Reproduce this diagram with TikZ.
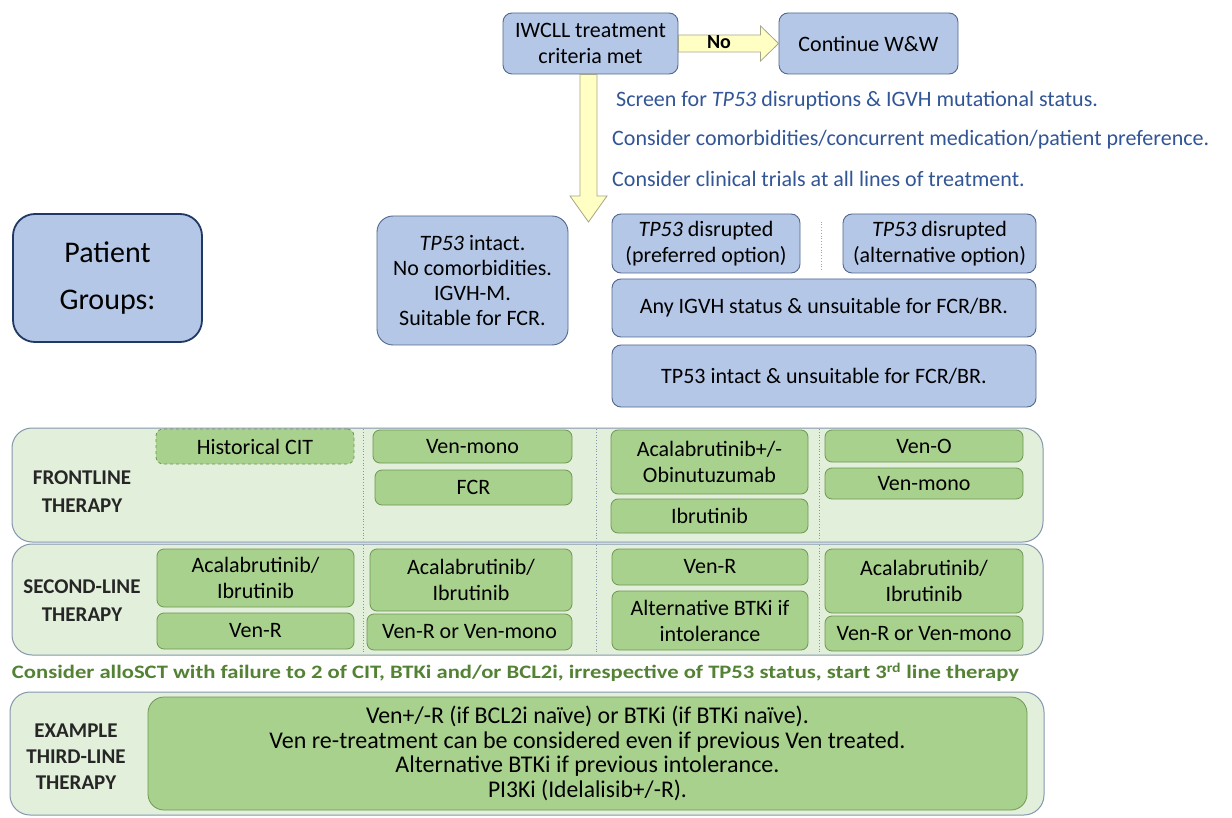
\documentclass[tikz,border=0pt]{standalone}
\usepackage{fontspec}
\setmainfont{Carlito}
\usepackage{graphicx}
\usetikzlibrary{calc}
\definecolor{bfill}{HTML}{B4C7E7}
\definecolor{bdraw}{RGB}{82,104,142}
\definecolor{pgdraw}{RGB}{31,56,100}
\definecolor{gfill}{HTML}{A9D18E}
\definecolor{gdraw}{RGB}{112,150,84}
\definecolor{sfill}{HTML}{E2EFDA}
\definecolor{sdraw}{RGB}{132,151,176}
\definecolor{afill}{HTML}{FFFFC4}
\definecolor{adraw}{RGB}{165,165,140}
\definecolor{btext}{RGB}{50,85,150}
\definecolor{gtext}{RGB}{84,130,53}
\definecolor{dotred}{RGB}{200,150,150}
\newcommand\boxfont{\fontsize{22}{26}\selectfont}
\begin{document}
\begin{tikzpicture}[x=1pt,y=-1pt,
  bbox/.style={draw=bdraw, line width=0.9pt, fill=bfill, rounded corners=9pt, align=center, inner sep=0pt, font=\boxfont, text=black},
  gbox/.style={draw=gdraw, line width=0.8pt, fill=gfill, rounded corners=7pt, align=center, inner sep=0pt, font=\boxfont, text=black},
  sect/.style={draw=sdraw, line width=1pt, fill=sfill, rounded corners=20pt, inner sep=0pt},
  lbl/.style={align=center, inner sep=0pt, font=\bfseries\fontsize{21}{28}\selectfont, text=black!85},
  bluetext/.style={inner sep=0pt, anchor=west, font=\fontsize{22}{26}\selectfont, text=btext},
  blockarrow/.style={draw=adraw, line width=0.8pt, fill=afill},
  divider/.style={draw=sdraw, line width=0.8pt, dotted}
]
\useasboundingbox (0,0) rectangle (1232,818);
\fill[white] (0,0) rectangle (1232,818);

% top flow
\node[bbox, minimum width=175pt, minimum height=61pt] (iw) at (590.5,43.5) {IWCLL treatment\\criteria met};
\node[bbox, minimum width=179pt, minimum height=61pt] (cw) at (868.5,43.5) {Continue W\&W};

\draw[blockarrow] ($(iw.east)+(0,-8.5)$) -- ($(cw.west)+(-18,-8.5)$) -- ($(cw.west)+(-18,-17.5)$) -- (cw.west)
  -- ($(cw.west)+(-18,17.5)$) -- ($(cw.west)+(-18,8.5)$) -- ($(iw.east)+(0,8.5)$) -- cycle;
\node[inner sep=0pt, font=\bfseries\fontsize{20}{22}\selectfont] (no) at (719,42) {No};

\coordinate (vs) at ($(iw.south)+(-2,0)$);
\coordinate (vt) at (588.5,222);
\draw[blockarrow] ($(vs)+(-8.5,0)$) -- ($(vt)+(-8.5,-26)$) -- ($(vt)+(-18.5,-26)$) -- (vt)
  -- ($(vt)+(18.5,-26)$) -- ($(vt)+(8.5,-26)$) -- ($(vs)+(8.5,0)$) -- cycle;

\node[bluetext] (t1) at (616,101) {Screen for \textit{TP53} disruptions \& IGVH mutational status.};
\node[bluetext] (t2) at (612,140) {Consider comorbidities/concurrent medication/patient preference.};
\node[bluetext] (t3) at (612,179) {Consider clinical trials at all lines of treatment.};

% patient groups
\node[bbox, draw=pgdraw, line width=1.8pt, rounded corners=22pt, minimum width=189pt, minimum height=128pt,
  font=\fontsize{30}{47}\selectfont] (pg) at (107.5,278) {Patient\\Groups:};
\node[bbox, rounded corners=16pt, minimum width=191pt, minimum height=129pt, font=\fontsize{22}{25}\selectfont] (ti) at (472.5,280.5)
  {\textit{TP53} intact.\\No comorbidities.\\IGVH-M.\\Suitable for FCR.};
\node[bbox, minimum width=188pt, minimum height=59pt] (pr) at (706,243.5) {\textit{TP53} disrupted\\(preferred option)};
\node[bbox, minimum width=193pt, minimum height=59pt] (al) at (939.5,243.5) {\textit{TP53} disrupted\\(alternative option)};
\draw[dotred, line width=0.8pt, dotted] ($(pr.north east)!0.5!(al.north west)+(0,8)$) -- ($(pr.south east)!0.5!(al.south west)+(0,-4)$);
\node[bbox, minimum width=424pt, minimum height=58pt] (ai) at (824,308) {Any IGVH status \& unsuitable for FCR/BR.};
\node[bbox, minimum width=424pt, minimum height=62pt] (tu) at (824,376) {TP53 intact \& unsuitable for FCR/BR.};

% sections
\node[sect, minimum width=1031pt, minimum height=114pt] (fl) at (527.5,485) {};
\node[sect, minimum width=1031pt, minimum height=111pt] (sl) at (527.5,599.5) {};
\node[sect, minimum width=1034pt, minimum height=123pt] (tl) at (527,753.5) {};

\foreach \xx in {363,596,819}{
  \draw[divider] (\xx,429) -- (\xx,541);
  \draw[divider] (\xx,545) -- (\xx,654);
}

\node[lbl] (fll) at (82,492) {FRONTLINE\\THERAPY};
\node[lbl] (sll) at (82,601) {SECOND-LINE\\THERAPY};
\node[lbl, font=\bfseries\fontsize{21}{26}\selectfont] (tll) at (76,757) {EXAMPLE\\THIRD-LINE\\THERAPY};

% frontline
\node[gbox, dashed, minimum width=198pt, minimum height=35pt] (hc) at (255,446.5) {Historical CIT};
\node[gbox, minimum width=199pt, minimum height=33pt] (vm1) at (472.5,446.5) {Ven-mono};
\node[gbox, minimum width=197pt, minimum height=35pt] (fcr) at (473.5,487.5) {FCR};
\node[gbox, minimum width=197pt, minimum height=64pt] (ao) at (709.5,462) {Acalabrutinib+/-\\Obinutuzumab};
\node[gbox, minimum width=197pt, minimum height=34pt] (ib) at (709.5,516) {Ibrutinib};
\node[gbox, minimum width=198pt, minimum height=32pt] (vo) at (924,446) {Ven-O};
\node[gbox, minimum width=198pt, minimum height=31pt] (vm2) at (924,483.5) {Ven-mono};

% second line
\node[gbox, minimum width=197pt, minimum height=58pt] (a1) at (255.5,578) {Acalabrutinib/\\Ibrutinib};
\node[gbox, minimum width=197pt, minimum height=36pt] (vr1) at (255.5,631) {Ven-R};
\node[gbox, minimum width=202pt, minimum height=62pt] (a2) at (471,580) {Acalabrutinib/\\Ibrutinib};
\node[gbox, minimum width=205pt, minimum height=36pt] (vrm2) at (469.5,632) {Ven-R or Ven-mono};
\node[gbox, minimum width=196pt, minimum height=36pt] (vr3) at (710,567) {Ven-R};
\node[gbox, minimum width=196pt, minimum height=59pt] (alt3) at (710,620.5) {Alternative BTKi if\\intolerance};
\node[gbox, minimum width=198pt, minimum height=64pt] (a4) at (924,581) {Acalabrutinib/\\Ibrutinib};
\node[gbox, minimum width=198pt, minimum height=35pt] (vrm4) at (924,633.5) {Ven-R or Ven-mono};

% alloSCT note
\node[inner sep=0pt, text=gtext, font=\bfseries\fontsize{19}{20}\selectfont] (note) at (515.5,672)
  {\resizebox{1007pt}{\height}{Consider alloSCT with failure to 2 of CIT, BTKi and/or BCL2i, irrespective of TP53 status, start 3\textsuperscript{rd} line therapy}};

% third line
\node[gbox, rounded corners=16pt, minimum width=879pt, minimum height=113pt, font=\fontsize{24}{24.5}\selectfont] (tb) at (587.5,753.5)
  {\resizebox{443pt}{\height}{Ven+/-R (if BCL2i naïve) or BTKi (if BTKi naïve).}\\
   \resizebox{636pt}{\height}{Ven re-treatment can be considered even if previous Ven treated.}\\
   \resizebox{384pt}{\height}{Alternative BTKi if previous intolerance.}\\
   \resizebox{199pt}{\height}{PI3Ki (Idelalisib+/-R).}};
\end{tikzpicture}
\end{document}
